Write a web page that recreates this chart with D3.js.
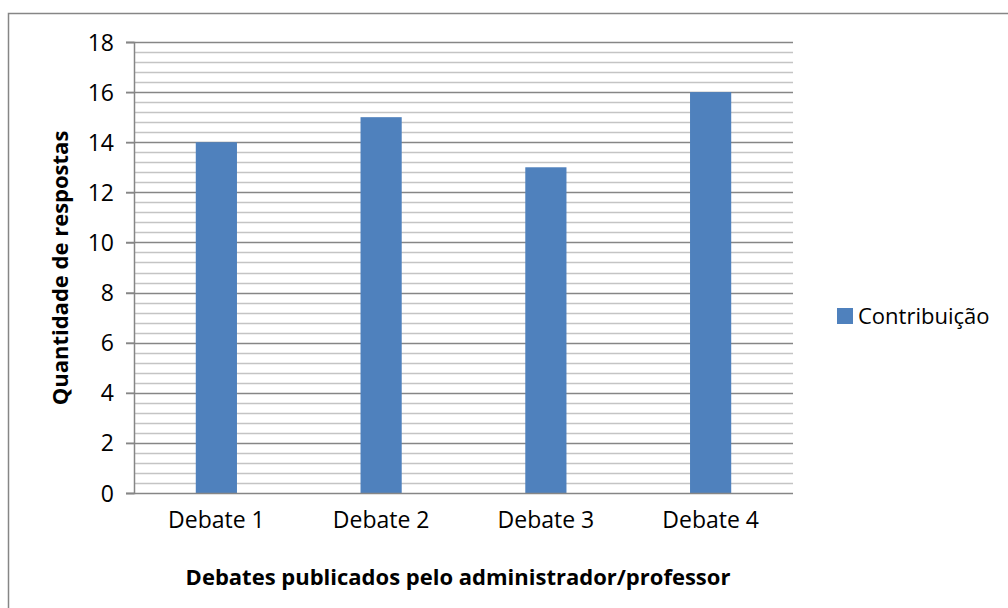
<!DOCTYPE html>
<html>
<head>
<meta charset="utf-8">
<script src="https://cdn.jsdelivr.net/npm/d3@7"></script>
<style>
  body { margin: 0; background: #fff; }
  text { font-family: "Open Sans", "Noto Sans", sans-serif; fill: #000; }
</style>
</head>
<body>
<svg id="chart" width="1008" height="608"></svg>
<script>
// dados do grafico
var categorias = ["Debate 1", "Debate 2", "Debate 3", "Debate 4"];
var contribuicao = [14, 15, 13, 16];
var ticksY = [0, 2, 4, 6, 8, 10, 12, 14, 16, 18];
var nomeSerie = "Contribuição";

var svg = d3.select("#chart");

// borda externa (sai pela direita e por baixo)
svg.append("rect")
  .attr("x", 8.5).attr("y", 13.5)
  .attr("width", 1100).attr("height", 700)
  .attr("fill", "none").attr("stroke", "#868686").attr("stroke-width", 1.5);

var pLeft = 134, pRight = 793, pTop = 42, pBottom = 493;

var x = d3.scaleBand()
  .domain(categorias)
  .range([pLeft, pRight])
  .paddingInner(0.75)
  .paddingOuter(0.375);

var y = d3.scaleLinear().domain([0, 18]).range([pBottom, pTop]);

// linhas de grade menores (0.4)
var menores = d3.range(0, 18.001, 0.4).filter(function(v){ return Math.abs(v/2 - Math.round(v/2)) > 0.01; });
svg.append("g").selectAll("line").data(menores).enter().append("line")
  .attr("x1", pLeft).attr("x2", pRight)
  .attr("y1", function(d){ return Math.round(y(d)) + 0.5; })
  .attr("y2", function(d){ return Math.round(y(d)) + 0.5; })
  .attr("stroke", "#c4c4c4").attr("stroke-width", 1.5);

// linhas de grade maiores
svg.append("g").selectAll("line").data(ticksY.slice(1)).enter().append("line")
  .attr("x1", pLeft - 8).attr("x2", pRight)
  .attr("y1", function(d){ return Math.round(y(d)) + 0.5; })
  .attr("y2", function(d){ return Math.round(y(d)) + 0.5; })
  .attr("stroke", "#868686").attr("stroke-width", 1.5);

// barras
svg.append("g").selectAll("rect").data(contribuicao).enter().append("rect")
  .attr("class", "bar")
  .attr("x", function(d, i){ return x(categorias[i]); })
  .attr("y", function(d){ return y(d); })
  .attr("width", x.bandwidth())
  .attr("height", function(d){ return y(0) - y(d); })
  .attr("fill", "#4f81bd");

// eixo y
var eixoY = svg.append("g")
  .attr("transform", "translate(" + pLeft + ",0)")
  .call(d3.axisLeft(y).tickValues(ticksY).tickSize(8).tickPadding(12).tickFormat(d3.format("d")));
eixoY.select(".domain").attr("stroke", "#868686").attr("stroke-width", 1.5);
eixoY.selectAll(".tick line").attr("stroke", "#868686").attr("stroke-width", 1.5);
eixoY.selectAll(".tick text").style("font-size", "23px").attr("dy", "0.35em")
  .style("font-family", "'Open Sans', sans-serif").attr("fill", "#000");

// eixo x
var eixoX = svg.append("g")
  .attr("transform", "translate(0," + pBottom + ")")
  .call(d3.axisBottom(x).tickSize(0).tickPadding(19));
eixoX.select(".domain").attr("d", "M" + (pLeft - 8) + ",0.5H" + pRight)
  .attr("stroke", "#868686").attr("stroke-width", 1.5);
eixoX.selectAll(".tick text").style("font-size", "23px")
  .style("font-family", "'Open Sans', sans-serif").attr("fill", "#000");

// titulos
svg.append("text")
  .attr("x", 458).attr("y", 585)
  .attr("text-anchor", "middle")
  .style("font-size", "22px").style("font-weight", "bold")
  .text("Debates publicados pelo administrador/professor");

svg.append("text")
  .attr("transform", "translate(68,268) rotate(-90)")
  .attr("text-anchor", "middle")
  .style("font-size", "22px").style("font-weight", "bold")
  .text("Quantidade de respostas");

// legenda
var leg = svg.append("g").attr("transform", "translate(837,308)");
leg.append("rect").attr("width", 16).attr("height", 16).attr("fill", "#4f81bd");
leg.append("text").attr("x", 21).attr("y", 16)
  .style("font-size", "22px").text(nomeSerie);
</script>
</body>
</html>
